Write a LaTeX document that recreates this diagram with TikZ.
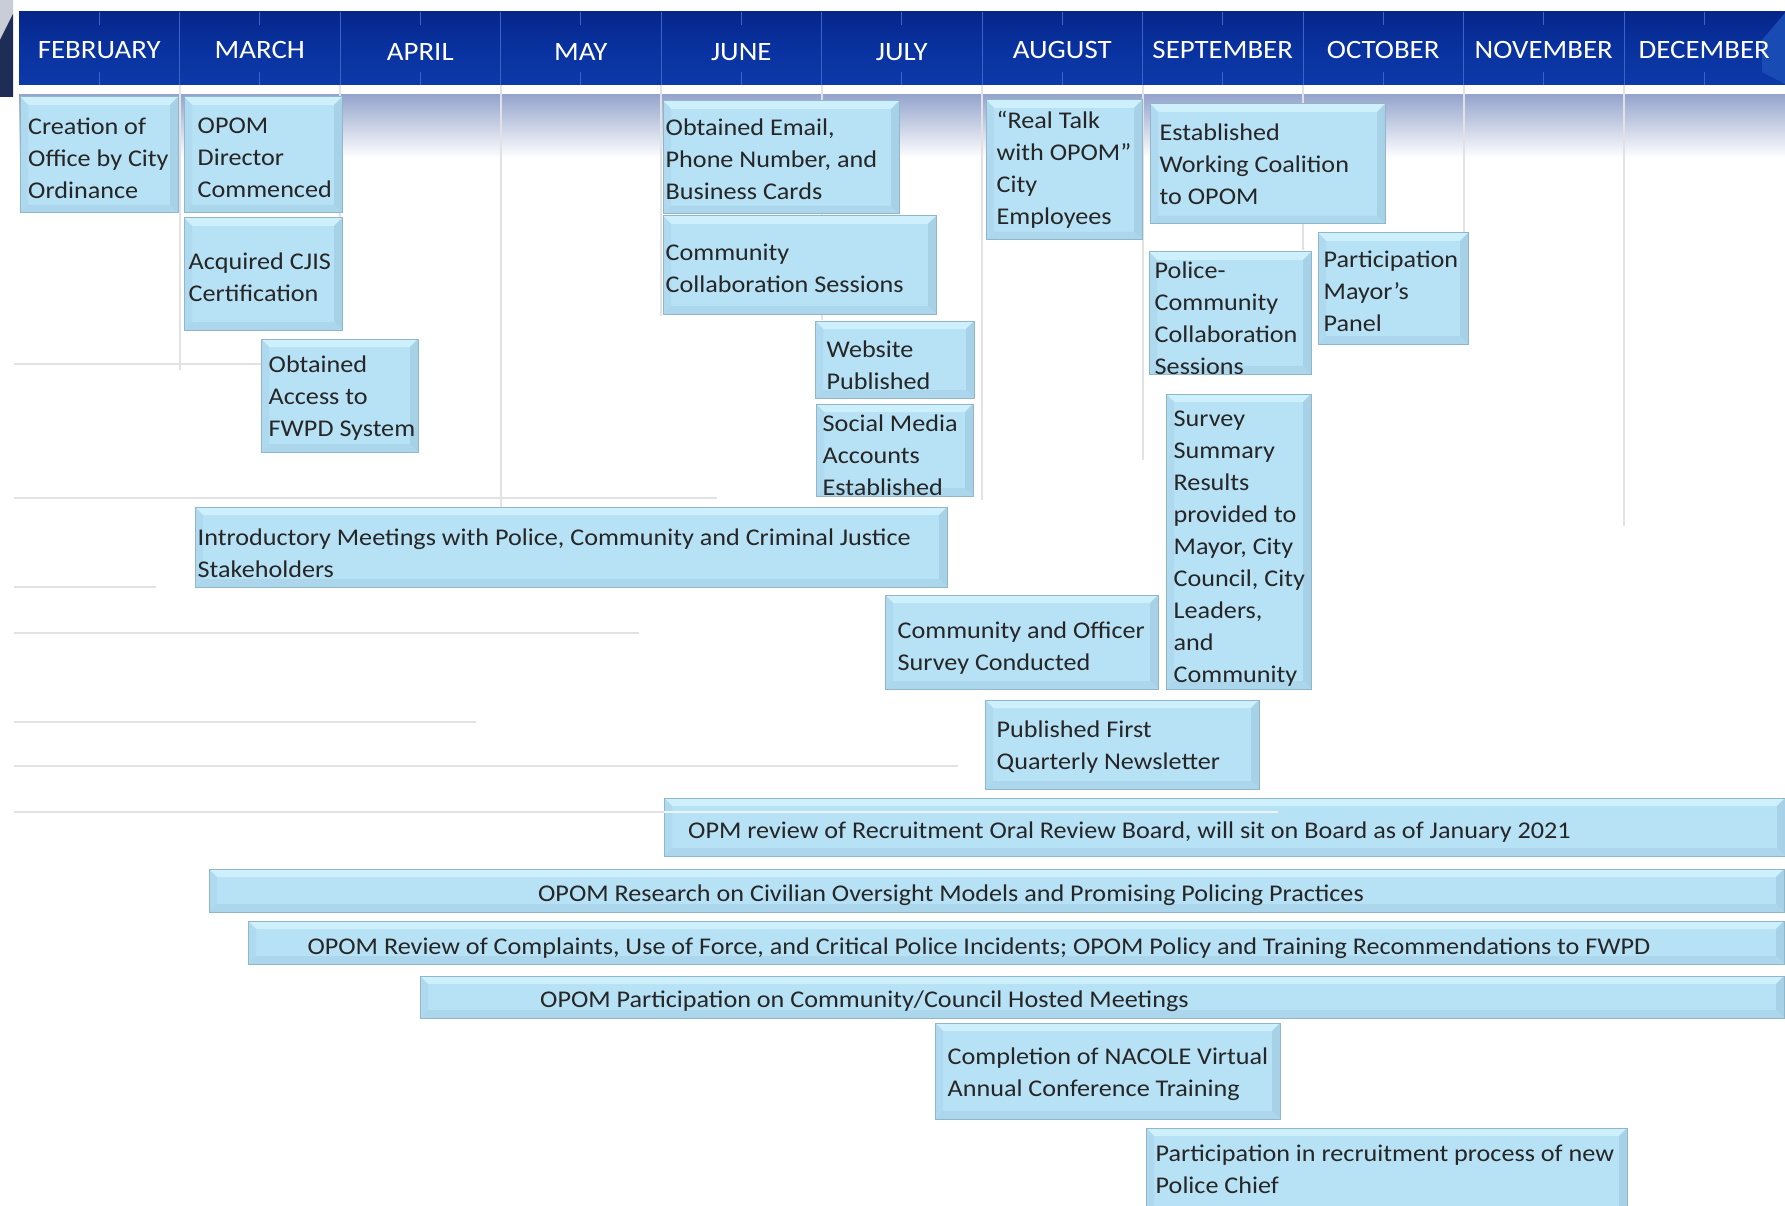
\documentclass[tikz,border=0pt]{standalone}
\usepackage{fontspec}
\setmainfont{Carlito}[FakeStretch=1.09]
\definecolor{boxfill}{RGB}{183,225,245}
\definecolor{boxline}{RGB}{145,182,202}
\definecolor{bvtop}{RGB}{206,240,252}
\definecolor{bvleft}{RGB}{174,217,238}
\definecolor{bvright}{RGB}{166,209,231}
\definecolor{bvbot}{RGB}{172,214,235}
\definecolor{hdrtop}{RGB}{6,38,138}
\definecolor{hdrmid}{RGB}{9,50,160}
\definecolor{hdrbot}{RGB}{12,58,168}
\definecolor{hdrline}{RGB}{60,100,200}
\definecolor{hdrbevel}{RGB}{25,75,180}
\definecolor{grid}{RGB}{226,226,230}
\definecolor{txt}{RGB}{38,38,38}
\definecolor{band}{RGB}{150,165,205}
\definecolor{navyc}{RGB}{30,45,85}
\definecolor{grayc}{RGB}{200,205,215}
\newcommand\bv{8}
\tikzset{
  evbox/.style={draw=boxline, line width=1pt, fill=boxfill, inner sep=0pt,
    path picture={
      \fill[bvtop] (path picture bounding box.north west) -- (path picture bounding box.north east)
        -- ([shift={(-\bv,\bv)}]path picture bounding box.north east) -- ([shift={(\bv,\bv)}]path picture bounding box.north west) -- cycle;
      \fill[bvleft] (path picture bounding box.north west) -- ([shift={(\bv,\bv)}]path picture bounding box.north west)
        -- ([shift={(\bv,-\bv)}]path picture bounding box.south west) -- (path picture bounding box.south west) -- cycle;
      \fill[bvright] (path picture bounding box.north east) -- ([shift={(-\bv,\bv)}]path picture bounding box.north east)
        -- ([shift={(-\bv,-\bv)}]path picture bounding box.south east) -- (path picture bounding box.south east) -- cycle;
      \fill[bvbot] (path picture bounding box.south west) -- ([shift={(\bv,-\bv)}]path picture bounding box.south west)
        -- ([shift={(-\bv,-\bv)}]path picture bounding box.south east) -- (path picture bounding box.south east) -- cycle;
    }},
  evtext/.style={anchor=west, align=left, inner sep=0pt, text=txt, yshift=-3pt, font=\fontsize{24}{32}\selectfont},
  barlabel/.style={inner sep=0pt, text=txt, yshift=-3pt, font=\fontsize{24}{32}\selectfont},
  month/.style={inner sep=0pt, text=white, font=\fontsize{26.5}{30}\selectfont},
  gridline/.style={draw=grid, line width=1.5pt},
}
\newcommand\ebox[5]{\node[evbox, minimum width={(#4-#2)*1pt}, minimum height={(#5-#3)*1pt}] (#1) at ({(#2+#4)/2},{(#3+#5)/2}) {};}
\begin{document}
\begin{tikzpicture}[x=1pt,y=-1pt]
\useasboundingbox (0,0) rectangle (1785,1206);
\fill[white] (0,0) rectangle (1785,1206);
% corner shape
\fill[grayc] (0,0) -- (13,0) -- (13,14) -- (0,40) -- cycle;
\fill[navyc] (0,40) -- (13,14) -- (13,97) -- (0,97) -- cycle;
% band under header
\shade[top color=band, bottom color=white] (19,95) rectangle (1785,158);
% header
\shade[top color=hdrtop, bottom color=hdrbot, middle color=hdrmid] (19,12) rectangle (1785,85);
\fill[hdrbevel] (1785,13) -- (1762,40) -- (1762,72) -- (1785,84) -- cycle;
\foreach \k in {1,...,10} {
  \draw[hdrline, line width=1pt] ({19+160.5*\k},12) -- ({19+160.5*\k},85);
}
\foreach \k in {0,...,10} {
  \draw[hdrline, line width=1pt] ({19+160.5*(\k+0.5)},12) -- ({19+160.5*(\k+0.5)},25);
  \draw[hdrline, line width=1pt] ({19+160.5*(\k+0.5)},72) -- ({19+160.5*(\k+0.5)},85);
}
\node[month] (mfeb) at (99.25,50) {FEBRUARY};
\node[month] (mmar) at (259.75,50) {MARCH};
\node[month] (mapr) at (420.25,52) {APRIL};
\node[month] (mmay) at (580.75,52) {MAY};
\node[month] (mjun) at (741.25,52) {JUNE};
\node[month] (mjul) at (901.75,52) {JULY};
\node[month] (maug) at (1062.25,50) {AUGUST};
\node[month] (msep) at (1222.75,50) {SEPTEMBER};
\node[month] (moct) at (1383.25,50) {OCTOBER};
\node[month] (mnov) at (1543.75,50) {NOVEMBER};
\node[month] (mdec) at (1704.25,50) {DECEMBER};
% vertical grid lines
\draw[gridline] (180,85) -- (180,370);
\draw[gridline] (340,85) -- (340,330);
\draw[gridline] (501,85) -- (501,525);
\draw[gridline] (661,85) -- (661,316);
\draw[gridline] (822,85) -- (822,320);
\draw[gridline] (982,85) -- (982,500);
\draw[gridline] (1143,85) -- (1143,460);
\draw[gridline] (1303,85) -- (1303,250);
\draw[gridline] (1464,85) -- (1464,235);
\draw[gridline] (1624,85) -- (1624,526);
% horizontal grid lines
\draw[gridline] (14,364) -- (261,364);
\draw[gridline] (14,498) -- (717,498);
\draw[gridline] (14,587) -- (156,587);
\draw[gridline] (14,633) -- (639,633);
\draw[gridline] (14,722) -- (476,722);
\draw[gridline] (14,766) -- (958,766);
\draw[gridline] (14,812) -- (664,812);
% boxes
\ebox{b1}{20}{97}{178}{213}
\node[evtext] (t1) at ([xshift=8.5pt]b1.west) {Creation of\\Office by City\\Ordinance};
\ebox{b2}{184}{97}{342}{213}
\node[evtext] (t2) at ([xshift=14pt]b2.west) {OPOM\\Director\\Commenced};
\ebox{b3}{184}{218}{342}{330}
\node[evtext] (t3) at ([xshift=5pt]b3.west) {Acquired CJIS\\Certification};
\ebox{b4}{261}{339}{418}{452}
\node[evtext] (t4) at ([xshift=8pt]b4.west) {Obtained\\Access to\\FWPD System};
\ebox{b5}{663}{101}{899}{214}
\node[evtext] (t5) at ([xshift=3pt,yshift=1pt]b5.west) {Obtained Email,\\Phone Number, and\\Business Cards};
\ebox{b6}{663}{216}{936}{314}
\node[evtext] (t6) at ([xshift=3pt]b6.west) {Community\\Collaboration Sessions};
\ebox{b7}{815}{321}{974}{398}
\node[evtext] (t7) at ([xshift=12pt,yshift=-3pt]b7.west) {Website\\Published};
\ebox{b8}{816}{404}{973}{496}
\node[evtext] (t8) at ([xshift=7pt,yshift=-2pt]b8.west) {Social Media\\Accounts\\Established};
\ebox{b9}{986}{100}{1142}{240}
\node[evtext] (t9) at ([xshift=11pt,yshift=3pt]b9.west) {“Real Talk\\with OPOM”\\City\\Employees};
\ebox{b10}{1150}{104}{1385}{224}
\node[evtext] (t10) at ([xshift=10pt,yshift=3pt]b10.west) {Established\\Working Coalition\\to OPOM};
\ebox{b11}{1149}{252}{1311}{374}
\node[evtext] (t11) at ([xshift=6pt,yshift=-2pt]b11.west) {Police-\\Community\\Collaboration\\Sessions};
\ebox{b12}{1318}{233}{1468}{344}
\node[evtext] (t12) at ([xshift=6pt]b12.west) {Participation\\Mayor’s\\Panel};
\ebox{b13}{1166}{394}{1311}{689}
\node[evtext] (t13) at ([xshift=8pt,yshift=-4pt]b13.west) {Survey\\Summary\\Results\\provided to\\Mayor, City\\Council, City\\Leaders,\\and\\Community};
\ebox{b14}{195}{507}{947}{587}
\node[evtext] (t14) at ([xshift=3pt,yshift=-3pt]b14.west) {Introductory Meetings with Police, Community and Criminal Justice\\Stakeholders};
\ebox{b15}{885}{595}{1158}{689}
\node[evtext] (t15) at ([xshift=13pt,yshift=-3pt]b15.west) {Community and Officer\\Survey Conducted};
\ebox{b16}{985}{700}{1259}{789}
\node[evtext] (t16) at ([xshift=12pt]b16.west) {Published First\\Quarterly Newsletter};
\ebox{b17}{664}{798}{1785}{856}
\node[evtext] (t17) at (688,829) {OPM review of Recruitment Oral Review Board, will sit on Board as of January 2021};
\draw[draw=white!70!boxfill, line width=1.5pt] (664,812) -- (1278,812);
\ebox{b18}{209}{869}{1784}{912}
\node[barlabel] (t18) at (951,892) {OPOM Research on Civilian Oversight Models and Promising Policing Practices};
\ebox{b19}{248}{921}{1784}{964}
\node[barlabel] (t19) at (979,945) {OPOM Review of Complaints, Use of Force, and Critical Police Incidents; OPOM Policy and Training Recommendations to FWPD};
\ebox{b20}{420}{976}{1784}{1018}
\node[evtext] (t20) at (540,998) {OPOM Participation on Community/Council Hosted Meetings};
\ebox{b21}{935}{1023}{1280}{1119}
\node[evtext] (t21) at ([xshift=13pt]b21.west) {Completion of NACOLE Virtual\\Annual Conference Training};
\ebox{b22}{1146}{1128}{1627}{1235}
\node[evtext] (t22) at (1155.5,1166) {Participation in recruitment process of new\\Police Chief};
\end{tikzpicture}
\end{document}
